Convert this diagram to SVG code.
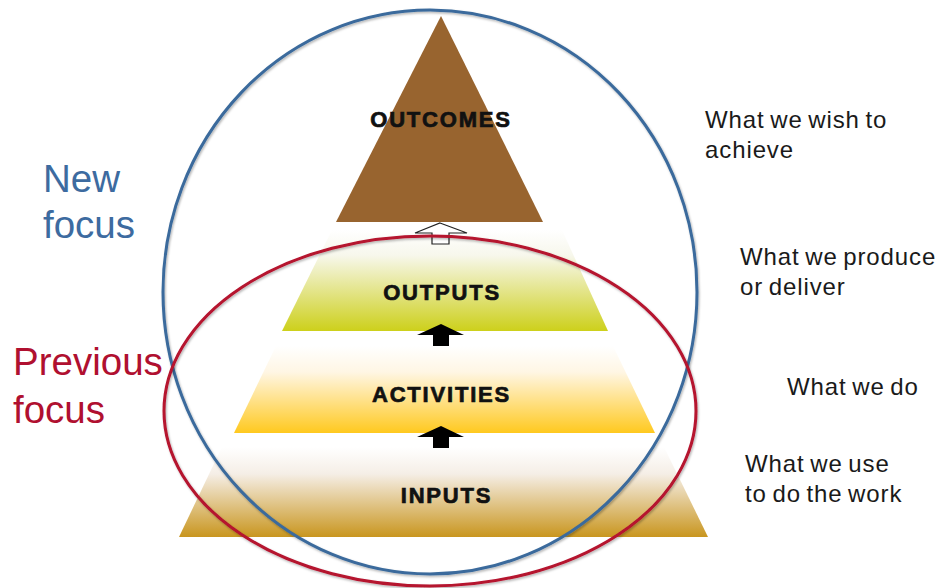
<svg xmlns="http://www.w3.org/2000/svg" width="941" height="588" viewBox="0 0 941 588">
  <defs>
    <linearGradient id="gOutputs" x1="0" y1="0" x2="0" y2="1">
      <stop offset="0" stop-color="#ffffff"/>
      <stop offset="0.25" stop-color="#f7f7ec"/>
      <stop offset="1" stop-color="#cdd01b"/>
    </linearGradient>
    <linearGradient id="gActivities" x1="0" y1="0" x2="0" y2="1">
      <stop offset="0" stop-color="#ffffff"/>
      <stop offset="0.3" stop-color="#fff6e4"/>
      <stop offset="1" stop-color="#ffc91f"/>
    </linearGradient>
    <linearGradient id="gInputs" x1="0" y1="0" x2="0" y2="1">
      <stop offset="0" stop-color="#ffffff"/>
      <stop offset="0.3" stop-color="#f5eee6"/>
      <stop offset="1" stop-color="#c9961f"/>
    </linearGradient>
    <filter id="soft" x="-5%" y="-5%" width="110%" height="110%">
      <feDropShadow dx="1" dy="1.5" stdDeviation="1.2" flood-color="#000" flood-opacity="0.3"/>
    </filter>
  </defs>
  <style>
    .tier { font-family: "Liberation Sans", Arial, sans-serif; font-weight: bold; font-size: 22px; fill: #111; stroke: #111; stroke-width: 0.7px; letter-spacing: 1.8px; text-anchor: middle; }
    .note { font-family: "Liberation Sans", Arial, sans-serif; font-size: 24px; fill: #1a1a1a; letter-spacing: 0.9px; word-spacing: -2px; }
    .focus { font-family: "Liberation Sans", Arial, sans-serif; font-size: 38.5px; }
    .ring { fill: none; stroke-width: 3; filter: url(#soft); }
    .open { fill: #ffffff; stroke: #222; stroke-width: 1.2; }
    .solid { fill: #000; }
  </style>

  <!-- pyramid tiers -->
  <g id="outcomes">
    <polygon points="441,16 543,222 336,222" fill="#98642f"/>
    <text class="tier" x="441" y="127">OUTCOMES</text>
  </g>
  <g id="outputs">
    <polygon points="332,230 562,230 608,331 282,331" fill="url(#gOutputs)"/>
    <text class="tier" x="442" y="300">OUTPUTS</text>
  </g>
  <g id="activities">
    <polygon points="276,346 613,346 655,433 234,433" fill="url(#gActivities)"/>
    <text class="tier" x="441.5" y="402">ACTIVITIES</text>
  </g>
  <g id="inputs">
    <polygon points="222,447 664,447 708,537 179,537" fill="url(#gInputs)"/>
    <text class="tier" x="446.5" y="503">INPUTS</text>
  </g>

  <!-- upward arrows between tiers -->
  <g id="connectors">
    <polygon class="open" points="440,223 467,233 449,233 449,244 432,244 432,233 415,233"/>
    <polygon class="solid" points="441,324 464,335 449,335 449,346 433,346 433,335 417,335"/>
    <polygon class="solid" points="441,426 464,437 449,437 449,448 433,448 433,437 417,437"/>
  </g>

  <!-- focus rings -->
  <g id="new-focus-ring">
    <ellipse class="ring" cx="430" cy="292" rx="267" ry="282" stroke="#3a6a9c"/>
  </g>
  <g id="previous-focus-ring">
    <ellipse class="ring" cx="430" cy="411" rx="266" ry="175" stroke="#b5122e"/>
  </g>

  <!-- focus labels -->
  <g id="new-focus-label">
    <text class="focus" fill="#3d6ba0" x="43" y="192">New</text>
    <text class="focus" fill="#3d6ba0" x="43" y="238">focus</text>
  </g>
  <g id="previous-focus-label">
    <text class="focus" fill="#b01030" x="13" y="375">Previous</text>
    <text class="focus" fill="#b01030" x="13" y="423">focus</text>
  </g>

  <!-- tier descriptions -->
  <g id="desc-outcomes">
    <text class="note" x="705" y="128">What we wish to</text>
    <text class="note" x="705" y="158">achieve</text>
  </g>
  <g id="desc-outputs">
    <text class="note" x="740" y="265">What we produce</text>
    <text class="note" x="740" y="295">or deliver</text>
  </g>
  <g id="desc-activities">
    <text class="note" x="787" y="395">What we do</text>
  </g>
  <g id="desc-inputs">
    <text class="note" x="745" y="472">What we use</text>
    <text class="note" x="745" y="502">to do the work</text>
  </g>
</svg>
